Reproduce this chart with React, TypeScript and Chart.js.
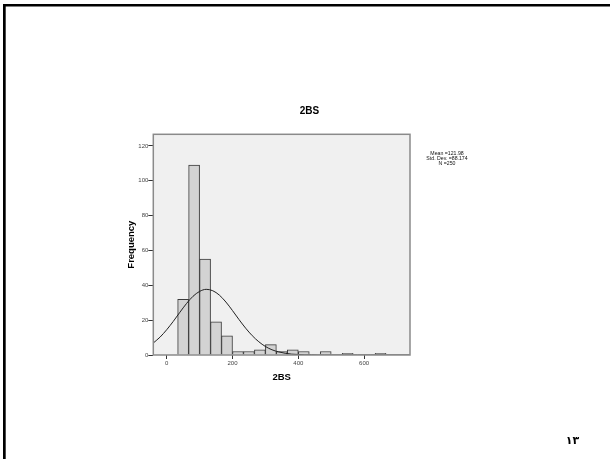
import React, { useEffect, useRef } from 'react';
import { Chart, registerables } from 'chart.js';

Chart.register(...registerables);

// Histogram bins (bin width ~33.33)
const binCenters = [50, 83.33, 116.67, 150, 183.33, 216.67, 250, 283.33, 316.67, 350, 383.33, 416.67, 450, 483.33, 516.67, 550, 583.33, 616.67, 650];
const frequencies = [32, 109, 55, 19, 11, 2, 2, 3, 6, 2, 3, 2, 0, 2, 0, 1, 0, 0, 1];

// Normal curve
const curveX = [-40, -20, 0, 20, 40, 60, 80, 100, 120, 140, 160, 180, 200, 220, 240, 260, 280, 300, 320, 340, 360, 380, 400, 420, 440, 460, 480, 500, 540, 580, 620, 660, 700, 740];
const curveY = [7.0, 10.3, 14.5, 19.3, 24.5, 29.5, 33.7, 36.5, 37.7, 36.9, 34.4, 30.4, 25.5, 20.3, 15.4, 11.1, 7.6, 4.9, 3.0, 1.8, 1.0, 0.5, 0.3, 0.1, 0.1, 0, 0, 0, 0, 0, 0, 0, 0, 0];

const xTicks = [0, 200, 400, 600];
const yTicks = [0, 20, 40, 60, 80, 100, 120];

const chartTitle = '2BS';
const xTitle = '2BS';
const yTitle = 'Frequency';
const statsLines = ['Mean =121.98', 'Std. Dev. =88.174', 'N =250'];
const pageNumber = '١٣';

const FONT = "'Liberation Sans', Arial, sans-serif";

export default function App() {
  const ref = useRef<HTMLCanvasElement | null>(null);

  useEffect(() => {
    if (!ref.current) return;

    const decor = {
      id: 'decor',
      beforeDraw(chart: any) {
        const { ctx, chartArea: a } = chart;
        ctx.save();
        ctx.fillStyle = '#f0f0f0';
        ctx.fillRect(a.left, a.top, a.right - a.left, a.bottom - a.top);
        ctx.restore();
      },
      afterDraw(chart: any) {
        const { ctx, chartArea: a } = chart;
        ctx.save();
        // plot border
        ctx.strokeStyle = '#8a8a8a';
        ctx.lineWidth = 1.5;
        ctx.strokeRect(a.left, a.top, a.right - a.left, a.bottom - a.top);
        // title
        ctx.fillStyle = '#000';
        ctx.font = `bold 10px ${FONT}`;
        ctx.textAlign = 'center';
        ctx.textBaseline = 'middle';
        ctx.fillText(chartTitle, 309.5, 111);
        // stats
        ctx.font = `5.2px ${FONT}`;
        ctx.fillStyle = '#111';
        statsLines.forEach((t, i) => ctx.fillText(t, 447, 153.8 + i * 5));
        // page number
        ctx.font = `bold 11px 'DejaVu Sans', 'Noto Sans', sans-serif`;
        ctx.fillStyle = '#000';
        ctx.fillText(pageNumber, 572.5, 441.5);
        // slide frame
        ctx.fillRect(3, 4, 607, 2.5);
        ctx.fillRect(3, 4, 2.7, 455);
        ctx.restore();
      },
    };

    const chart = new Chart(ref.current, {
      type: 'bar',
      data: {
        datasets: [
          {
            type: 'line',
            data: curveX.map((x, i) => ({ x, y: curveY[i] })),
            borderColor: '#222',
            borderWidth: 1,
            pointRadius: 0,
            fill: false,
            cubicInterpolationMode: 'monotone',
            order: 1,
          } as any,
          {
            type: 'bar',
            data: binCenters.map((x, i) => ({ x, y: frequencies[i] })),
            backgroundColor: '#d3d3d3',
            borderColor: '#3a3a3a',
            borderWidth: 1,
            borderSkipped: 'start',
            categoryPercentage: 1,
            barPercentage: 1,
            order: 2,
          } as any,
        ],
      },
      options: {
        responsive: false,
        animation: false,
        events: [],
        layout: { padding: { left: 125.6, top: 134.3, right: 200, bottom: 75.6 } },
        plugins: { legend: { display: false }, tooltip: { enabled: false }, title: { display: false } },
        scales: {
          x: {
            type: 'linear',
            min: -40.7,
            max: 739.5,
            offset: false,
            afterBuildTicks: (axis: any) => {
              axis.ticks = xTicks.map((v) => ({ value: v }));
            },
            afterFit: (scale: any) => {
              scale.height = 28.4;
            },
            grid: { offset: false, drawOnChartArea: false, drawTicks: true, tickLength: 4, color: '#333', lineWidth: 1 },
            border: { display: false },
            ticks: { padding: 1, color: '#444', font: { size: 6, family: FONT }, maxRotation: 0, autoSkip: false },
            title: { display: true, text: xTitle, color: '#000', padding: 0, font: { size: 9.5, weight: 'bold', family: FONT } },
          },
          y: {
            type: 'linear',
            min: 0,
            max: 126.7,
            afterBuildTicks: (axis: any) => {
              axis.ticks = yTicks.map((v) => ({ value: v }));
            },
            afterFit: (scale: any) => {
              scale.width = 27.7;
            },
            grid: { offset: false, drawOnChartArea: false, drawTicks: true, tickLength: 5, color: '#333', lineWidth: 1 },
            border: { display: false },
            ticks: { padding: 0, color: '#444', font: { size: 6, family: FONT }, autoSkip: false },
            title: { display: true, text: yTitle, color: '#000', padding: 0, font: { size: 9.5, weight: 'bold', family: FONT } },
          },
        },
      },
      plugins: [decor],
    } as any);

    return () => chart.destroy();
  }, []);

  return (
    <div style={{ position: 'absolute', left: 0, top: 0, width: 610, height: 459, background: '#fff' }}>
      <canvas ref={ref} width={610} height={459} style={{ display: 'block' }} />
    </div>
  );
}
